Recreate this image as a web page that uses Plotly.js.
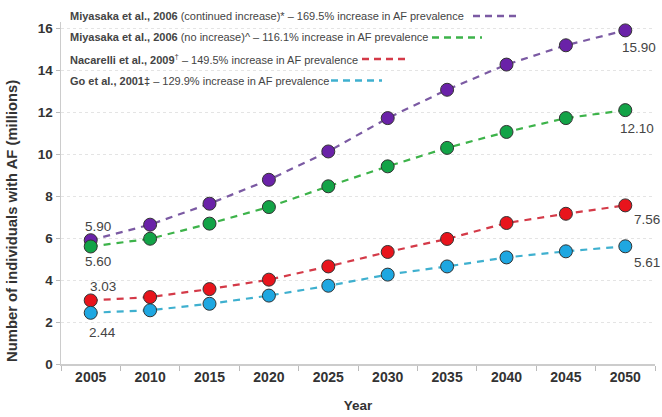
<!DOCTYPE html>
<html>
<head>
<meta charset="utf-8">
<script src="https://cdn.plot.ly/plotly-3.0.1.min.js"></script>
<style>html,body{margin:0;padding:0;background:#fff;}#chart{width:662px;height:417px;}</style>
</head>
<body>
<div id="chart"></div>
<script>
// ---- data ----
const years = ['2005','2010','2015','2020','2025','2030','2035','2040','2045','2050'];
const miyasakaContinued = [5.90, 6.64, 7.64, 8.78, 10.13, 11.72, 13.07, 14.27, 15.19, 15.90];
const miyasakaNoIncrease = [5.60, 5.97, 6.69, 7.48, 8.47, 9.42, 10.30, 11.06, 11.72, 12.10];
const nacarelli = [3.03, 3.19, 3.57, 4.02, 4.65, 5.34, 5.96, 6.72, 7.16, 7.56];
const go = [2.44, 2.56, 2.87, 3.26, 3.73, 4.26, 4.65, 5.08, 5.37, 5.61];
const seriesNames = [
  'Miyasaka et al., 2006 (continued increase)*',
  'Miyasaka et al., 2006 (no increase)^',
  'Nacarelli et al., 2009†',
  'Go et al., 2001‡'
];
const legendTexts = [
  '<b>Miyasaka et al., 2006</b> (continued increase)* – 169.5% increase in AF prevalence',
  '<b>Miyasaka et al., 2006</b> (no increase)^ – 116.1% increase in AF prevalence',
  '<b>Nacarelli et al., 2009</b><sup>†</sup> – 149.5% increase in AF prevalence',
  '<b>Go et al., 2001‡</b> – 129.9% increase in AF prevalence'
];
const yTickVals = [0, 2, 4, 6, 8, 10, 12, 14, 16];
const yTitle = 'Number of individuals with AF (millions)';
const xTitle = 'Year';

// ---- styles ----
const markerColors = ['#6a22a8', '#13a347', '#e8141c', '#1ea7e1'];
const lineColors = ['#7b5aa3', '#3db34a', '#d43a48', '#3fb0cf'];
const allSeries = [miyasakaContinued, miyasakaNoIncrease, nacarelli, go];

const traces = allSeries.map((vals, i) => ({
  type: 'scatter', mode: 'lines+markers', name: seriesNames[i],
  x: years, y: vals,
  line: {color: lineColors[i], width: 2.2, dash: '7px,6px'},
  marker: {color: markerColors[i], size: 13, line: {color: '#333', width: 1}},
  showlegend: false, cliponaxis: false
}));

// layout geometry (pixels)
const W = 662, H = 417;
const M = {l: 61, r: 7, t: 22, b: 53};
const pw = W - M.l - M.r, ph = H - M.t - M.b;
const px = x => (x - M.l) / pw;
const py = y => 1 - (y - M.t) / ph;

const annotations = [];
const shapes = [];
const legendY = [16, 37.5, 59, 80.5];
const sampleX = [[473, 518], [432, 482], [362, 408], [331, 382]];
legendTexts.forEach((t, i) => {
  annotations.push({xref: 'paper', yref: 'paper', x: px(68), y: py(legendY[i]),
    xanchor: 'left', yanchor: 'middle', showarrow: false, text: t,
    font: {family: 'Liberation Sans, Arial, sans-serif', size: 11, color: '#444'}});
  shapes.push({type: 'line', xref: 'paper', yref: 'paper',
    x0: px(sampleX[i][0]), x1: px(sampleX[i][1]), y0: py(legendY[i]), y1: py(legendY[i]),
    line: {color: lineColors[i], width: 2.5, dash: '7px,5px'}});
});

// y-axis title (placed lower than plot centre, as in the reference)
annotations.push({xref: 'paper', yref: 'paper', x: px(12), y: py(221),
  xanchor: 'center', yanchor: 'middle', textangle: -90, showarrow: false,
  text: '<b>' + yTitle + '</b>',
  font: {family: 'Liberation Sans, Arial, sans-serif', size: 14.8, color: '#333'}});

// value labels at start and end
const labelFont = {family: 'Liberation Sans, Arial, sans-serif', size: 13.5, color: '#444'};
const endLabels = [
  {s: 0, idx: 0, dx: 7, dy: 14}, {s: 1, idx: 0, dx: 7, dy: -15},
  {s: 2, idx: 0, dx: 12, dy: 14}, {s: 3, idx: 0, dx: 12, dy: -20},
  {s: 0, idx: 9, dx: 14, dy: -17}, {s: 1, idx: 9, dx: 12, dy: -18},
  {s: 2, idx: 9, dx: 22, dy: -14}, {s: 3, idx: 9, dx: 22, dy: -16}
];
endLabels.forEach(l => {
  annotations.push({xref: 'x', yref: 'y', x: l.idx, y: allSeries[l.s][l.idx],
    xshift: l.dx, yshift: l.dy, showarrow: false,
    text: allSeries[l.s][l.idx].toFixed(2), font: labelFont});
});

const layout = {
  width: W, height: H, margin: M,
  paper_bgcolor: '#fff', plot_bgcolor: '#fff',
  font: {family: 'Liberation Sans, Arial, sans-serif', color: '#333'},
  showlegend: false,
  xaxis: {
    type: 'category', range: [-0.5, 9.5], tickson: 'boundaries',
    ticks: 'outside', ticklen: 5, tickcolor: '#bbb',
    showline: true, linecolor: '#ccc', linewidth: 1.5,
    showgrid: false, zeroline: false,
    tickfont: {size: 14, color: '#333', weight: 'bold'},
    title: {text: '<b>' + xTitle + '</b>', font: {size: 13.5, color: '#333'}, standoff: 16}
  },
  yaxis: {
    range: [0, 16.3], tickvals: yTickVals, ticks: 'outside', ticklen: 4, tickcolor: '#bbb',
    showline: true, linecolor: '#ccc', linewidth: 1.5,
    showgrid: true, gridcolor: '#e4e4e4', griddash: 'dot', zeroline: false,
    tickfont: {size: 13.5, color: '#333', weight: 'bold'}
  },
  annotations: annotations, shapes: shapes
};

Plotly.newPlot('chart', traces, layout, {staticPlot: true, displayModeBar: false});
</script>
</body>
</html>
